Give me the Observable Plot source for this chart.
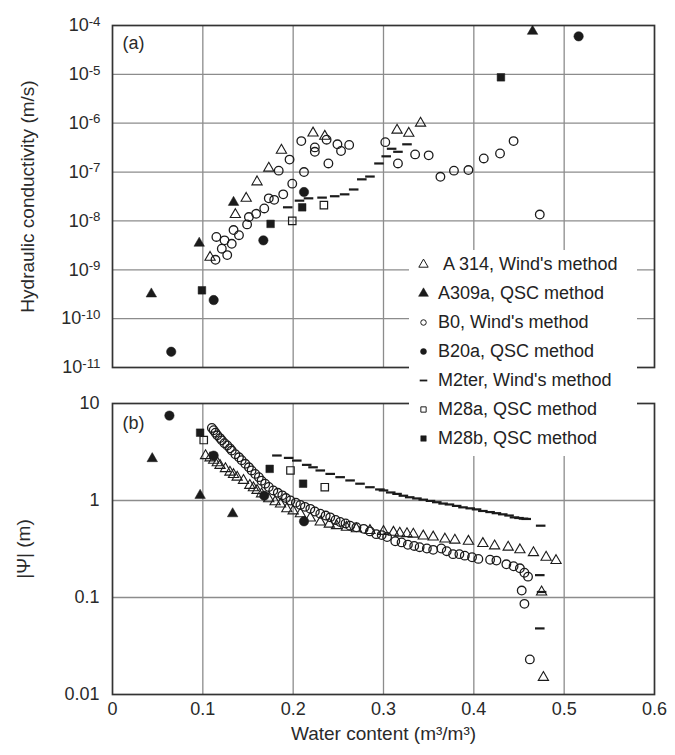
<!DOCTYPE html>
<html>
<head>
<meta charset="utf-8">
<script src="https://cdn.jsdelivr.net/npm/d3@7"></script>
<script src="https://cdn.jsdelivr.net/npm/@observablehq/plot@0.6"></script>
<style>
  html, body { margin: 0; padding: 0; background: #fff; }
  #wrap { position: relative; width: 675px; height: 755px; background: #fff; overflow: hidden; }
  #top, #bottom { position: absolute; left: 0; }
  #top { top: 0; }
  #bottom { top: 385px; }
  #legend { position: absolute; left: 409px; top: 250px; width: 228px; height: 206px; background: #fff;
            font: 18px "Liberation Sans", Arial, sans-serif; color: #222; }
  .row { height: 29px; display: flex; align-items: center; white-space: nowrap; }
  .row svg { flex: none; }
</style>
</head>
<body>
<div id="wrap">
  <div id="top"></div>
  <div id="bottom"></div>
  <div id="legend"></div>
</div>
<script>
// ---------- axes ----------
const xTicks = [0, 0.1, 0.2, 0.3, 0.4, 0.5, 0.6];
const xTickLabels = ["0", "0.1", "0.2", "0.3", "0.4", "0.5", "0.6"];
const kTicks = [1e-11, 1e-10, 1e-9, 1e-8, 1e-7, 1e-6, 1e-5, 1e-4];
const kTickLabels = ["10-11", "10-10", "10-9", "10-8", "10-7", "10-6", "10-5", "10-4"];
const psiTicks = [0.01, 0.1, 1, 10];
const psiTickLabels = ["0.01", "0.1", "1", "10"];

// ---------- legend ----------
const seriesNames = ["A 314, Wind's method", "A309a, QSC method", "B0, Wind's method", "B20a, QSC method",
                     "M2ter, Wind's method", "M28a, QSC method", "M28b, QSC method"];

// ---------- panel (a): hydraulic conductivity (m/s) ----------
const A314_K_theta = [0.108, 0.136, 0.148, 0.160, 0.173, 0.187, 0.222, 0.235, 0.315, 0.328, 0.341];
const A314_K = [1.8e-9, 1.35e-8, 2.9e-8, 6.3e-8, 1.2e-7, 2.8e-7, 6.3e-7, 5.4e-7, 7.2e-7, 6.2e-7, 1.0e-6];

const A309a_K_theta = [0.043, 0.096, 0.134, 0.465];
const A309a_K = [3.2e-10, 3.5e-9, 2.4e-8, 7.6e-5];

const B0_K_theta = [0.114, 0.115, 0.121, 0.127, 0.124, 0.132, 0.134, 0.140, 0.149, 0.151, 0.159, 0.168, 0.173,
  0.179, 0.189, 0.199, 0.184, 0.196, 0.212, 0.209, 0.224, 0.224, 0.237, 0.239, 0.249, 0.253, 0.262, 0.302,
  0.316, 0.335, 0.350, 0.363, 0.378, 0.394, 0.411, 0.429, 0.444, 0.473];
const B0_K = [1.6e-9, 4.7e-9, 2.7e-9, 2.0e-9, 4.0e-9, 3.4e-9, 6.5e-9, 5.1e-9, 8.5e-9, 1.2e-8, 1.4e-8, 1.8e-8, 2.9e-8,
  2.7e-8, 3.5e-8, 5.8e-8, 1.07e-7, 1.8e-7, 1.0e-7, 4.3e-7, 2.6e-7, 3.2e-7, 4.6e-7, 1.5e-7, 3.7e-7, 2.7e-7, 3.6e-7, 4.1e-7,
  1.5e-7, 2.3e-7, 2.2e-7, 8.0e-8, 1.07e-7, 1.1e-7, 1.9e-7, 2.4e-7, 4.3e-7, 1.35e-8];

const B20a_K_theta = [0.065, 0.112, 0.167, 0.212, 0.516];
const B20a_K = [2.1e-11, 2.4e-10, 4.0e-9, 3.9e-8, 6.0e-5];

const M2ter_K_theta = [0.194, 0.207, 0.217, 0.232, 0.246, 0.257, 0.267, 0.276, 0.285, 0.295, 0.303, 0.309, 0.316, 0.326];
const M2ter_K = [1.9e-8, 2.6e-8, 2.9e-8, 3.0e-8, 3.2e-8, 3.5e-8, 4.4e-8, 7.1e-8, 8.1e-8, 1.5e-7, 2.1e-7, 3.0e-7, 2.6e-7, 3.7e-7];

const M28a_K_theta = [0.199, 0.234];
const M28a_K = [1.0e-8, 2.1e-8];

const M28b_K_theta = [0.099, 0.175, 0.210, 0.430];
const M28b_K = [3.8e-10, 8.7e-9, 1.9e-8, 8.7e-6];

// ---------- panel (b): |psi| (m) ----------
const A314_psi_theta = [0.103, 0.108, 0.112, 0.116, 0.119, 0.125, 0.130, 0.134, 0.138, 0.145, 0.152, 0.156, 0.160,
  0.165, 0.173, 0.180, 0.186, 0.193, 0.200, 0.208, 0.219, 0.230, 0.240, 0.248, 0.259, 0.270, 0.285, 0.300, 0.311,
  0.318, 0.326, 0.333, 0.344, 0.355, 0.368, 0.379, 0.394, 0.410, 0.423, 0.438, 0.451, 0.466, 0.480, 0.491, 0.475, 0.477];
const A314_psi = [2.9, 2.75, 2.6, 2.45, 2.3, 2.13, 1.96, 1.85, 1.74, 1.61, 1.43, 1.35, 1.27,
  1.17, 1.04, 0.97, 0.92, 0.82, 0.78, 0.73, 0.66, 0.60, 0.57, 0.55, 0.53, 0.51, 0.49, 0.48, 0.47,
  0.46, 0.455, 0.45, 0.43, 0.42, 0.40, 0.39, 0.38, 0.36, 0.34, 0.33, 0.31, 0.29, 0.26, 0.24, 0.114, 0.015];

const A309a_psi_theta = [0.044, 0.097, 0.133];
const A309a_psi = [2.7, 1.13, 0.73];

const B0_psi_theta = [0.110, 0.112, 0.114, 0.116, 0.119, 0.121, 0.124, 0.127, 0.130, 0.132, 0.136, 0.140, 0.143,
  0.147, 0.151, 0.154, 0.158, 0.162, 0.165, 0.169, 0.173, 0.178, 0.183, 0.188, 0.192, 0.197, 0.203, 0.208, 0.213,
  0.219, 0.224, 0.230, 0.236, 0.241, 0.247, 0.252, 0.258, 0.263, 0.270, 0.278, 0.285, 0.292, 0.298, 0.304, 0.313,
  0.320, 0.327, 0.334, 0.340, 0.348, 0.355, 0.364, 0.370, 0.377, 0.384, 0.390, 0.398, 0.405, 0.418, 0.425, 0.436,
  0.444, 0.451, 0.456, 0.460, 0.453, 0.456, 0.462];
const B0_psi = [5.6, 5.3, 5.0, 4.7, 4.4, 4.17, 3.9, 3.69, 3.45, 3.27, 3.0, 2.79, 2.6,
  2.39, 2.2, 2.04, 1.88, 1.74, 1.6, 1.49, 1.38, 1.27, 1.2, 1.13, 1.06, 1.0, 0.95, 0.90, 0.86,
  0.82, 0.77, 0.73, 0.70, 0.67, 0.63, 0.60, 0.58, 0.55, 0.53, 0.51, 0.48, 0.45, 0.44, 0.42, 0.38,
  0.37, 0.35, 0.34, 0.33, 0.32, 0.31, 0.32, 0.30, 0.28, 0.28, 0.27, 0.26, 0.25, 0.245, 0.24, 0.22,
  0.21, 0.20, 0.18, 0.164, 0.118, 0.086, 0.023];

const B20a_psi_theta = [0.063, 0.112, 0.168, 0.212];
const B20a_psi = [7.5, 2.9, 1.12, 0.61];

const M2ter_psi_theta = [0.182, 0.195, 0.204, 0.215, 0.222, 0.230, 0.241, 0.252, 0.263, 0.274, 0.285, 0.296, 0.300,
  0.308, 0.315, 0.322, 0.329, 0.337, 0.344, 0.352, 0.359, 0.366, 0.373, 0.381, 0.388, 0.396, 0.403, 0.410, 0.418,
  0.425, 0.432, 0.439, 0.445, 0.450, 0.455, 0.458, 0.474, 0.473, 0.475, 0.473];
const M2ter_psi = [2.91, 2.75, 2.58, 2.33, 2.2, 2.04, 1.88, 1.74, 1.61, 1.49, 1.37, 1.30, 1.27,
  1.21, 1.17, 1.12, 1.08, 1.05, 1.02, 0.99, 0.96, 0.93, 0.91, 0.88, 0.85, 0.83, 0.81, 0.78, 0.76,
  0.74, 0.72, 0.70, 0.67, 0.66, 0.65, 0.645, 0.55, 0.17, 0.114, 0.048];

const M28a_psi_theta = [0.101, 0.197, 0.235];
const M28a_psi = [4.2, 2.04, 1.37];

const M28b_psi_theta = [0.097, 0.174, 0.211];
const M28b_psi = [5.0, 2.12, 1.49];

// ---------- styling ----------
const ink = "#1b1b1b";
const gridColor = "#8c8c8c";
const font = '"Liberation Sans", Arial, sans-serif';

const dashSymbol = {
  draw(context, size) {
    const w = Math.sqrt(size) * 0.6;
    context.moveTo(-w, 0);
    context.lineTo(w, 0);
  }
};

const styles = [
  {symbol: "triangle", fill: "none", stroke: ink, strokeWidth: 1.1, r: 3.8},   // A 314
  {symbol: "triangle", fill: ink, stroke: ink, strokeWidth: 0.5, r: 3.9},      // A309a
  {symbol: "circle", fill: "none", stroke: ink, strokeWidth: 1.3, r: 4.3},     // B0
  {symbol: "circle", fill: ink, stroke: ink, strokeWidth: 0.5, r: 4.7},        // B20a
  {symbol: dashSymbol, fill: "none", stroke: ink, strokeWidth: 2.2, r: 4.5},   // M2ter
  {symbol: "square", fill: "none", stroke: ink, strokeWidth: 1.2, r: 4.2},     // M28a
  {symbol: "square", fill: ink, stroke: ink, strokeWidth: 0.5, r: 4.3}         // M28b
];

function table(xs, ys) { return xs.map((x, i) => ({x, y: ys[i]})); }
function dots(xs, ys, k) { return Plot.dot(table(xs, ys), {x: "x", y: "y", ...styles[k]}); }

const W = 675, ML = 112, MR = 21;

// ---------- panel (a) ----------
const topPlot = Plot.plot({
  width: W, height: 385,
  marginLeft: ML, marginRight: MR, marginTop: 25, marginBottom: 18,
  style: {fontFamily: font, fontSize: "18px", color: "#2a2a2a", background: "transparent"},
  x: {domain: [0, 0.6], axis: null},
  y: {type: "log", domain: [1e-11, 1e-4]},
  marks: [
    Plot.gridX(xTicks.slice(1, -1), {stroke: gridColor, strokeOpacity: 1, strokeWidth: 1.3}),
    Plot.gridY(kTicks.slice(1, -1), {stroke: gridColor, strokeOpacity: 1, strokeWidth: 1.3}),
    Plot.frame({stroke: "#333", strokeWidth: 1.7}),
    Plot.axisY({ticks: kTicks, tickSize: 0, tickPadding: 12, label: null,
                tickFormat: (d) => kTickLabels[kTicks.indexOf(d)]}),
    Plot.text(["Hydraulic conductivity (m/s)"], {frameAnchor: "left", dx: -85, rotate: -90,
                textAnchor: "middle", lineAnchor: "middle", fontSize: 19}),
    Plot.text(["(a)"], {frameAnchor: "top-left", dx: 10, dy: 11, fontSize: 18}),
    dots(M2ter_K_theta, M2ter_K, 4),
    dots(B0_K_theta, B0_K, 2),
    dots(A314_K_theta, A314_K, 0),
    dots(M28a_K_theta, M28a_K, 5),
    dots(M28b_K_theta, M28b_K, 6),
    dots(B20a_K_theta, B20a_K, 3),
    dots(A309a_K_theta, A309a_K, 1)
  ]
});

// superscript exponents on the log tick labels
for (const t of topPlot.querySelectorAll('[aria-label="y-axis tick label"] text')) {
  const s = t.textContent;
  if (!s.startsWith("10")) continue;
  t.textContent = "10";
  const sup = document.createElementNS("http://www.w3.org/2000/svg", "tspan");
  sup.setAttribute("dy", "-0.42em");
  sup.setAttribute("font-size", "0.74em");
  sup.textContent = s.slice(2);
  t.appendChild(sup);
}
document.getElementById("top").appendChild(topPlot);

// ---------- panel (b) ----------
const bottomPlot = Plot.plot({
  width: W, height: 370,
  marginLeft: ML, marginRight: MR, marginTop: 18, marginBottom: 61,
  style: {fontFamily: font, fontSize: "18px", color: "#2a2a2a", background: "transparent"},
  x: {domain: [0, 0.6]},
  y: {type: "log", domain: [0.01, 10]},
  marks: [
    Plot.gridX(xTicks.slice(1, -1), {stroke: gridColor, strokeOpacity: 1, strokeWidth: 1.3}),
    Plot.gridY(psiTicks.slice(1, -1), {stroke: gridColor, strokeOpacity: 1, strokeWidth: 1.3}),
    Plot.frame({stroke: "#333", strokeWidth: 1.7}),
    Plot.axisY({ticks: psiTicks, tickSize: 0, tickPadding: 13, label: null,
                tickFormat: (d) => psiTickLabels[psiTicks.indexOf(d)]}),
    Plot.axisX({ticks: xTicks, tickSize: 0, tickPadding: 8, label: null,
                tickFormat: (d) => xTickLabels[xTicks.indexOf(d)]}),
    Plot.text(["|Ψ| (m)"], {frameAnchor: "left", dx: -89, rotate: -90,
                textAnchor: "middle", lineAnchor: "middle", fontSize: 19}),
    Plot.text(["Water content (m³/m³)"], {frameAnchor: "bottom", dy: 39, lineAnchor: "middle", fontSize: 19}),
    Plot.text(["(b)"], {frameAnchor: "top-left", dx: 10, dy: 13, fontSize: 18}),
    dots(M2ter_psi_theta, M2ter_psi, 4),
    dots(B0_psi_theta, B0_psi, 2),
    dots(A314_psi_theta, A314_psi, 0),
    dots(M28a_psi_theta, M28a_psi, 5),
    dots(M28b_psi_theta, M28b_psi, 6),
    dots(B20a_psi_theta, B20a_psi, 3),
    dots(A309a_psi_theta, A309a_psi, 1)
  ]
});
document.getElementById("bottom").appendChild(bottomPlot);

// ---------- legend ----------
const legend = d3.select("#legend");
const legendSizes = [38, 42, 24, 28, 40, 28, 30];
seriesNames.forEach((name, i) => {
  const row = legend.append("div").attr("class", "row");
  const svg = row.append("svg").attr("width", 29).attr("height", 29);
  const st = styles[i];
  const type = st.symbol === "triangle" ? d3.symbolTriangle
             : st.symbol === "circle" ? d3.symbolCircle
             : st.symbol === "square" ? d3.symbolSquare : st.symbol;
  svg.append("path")
    .attr("transform", "translate(14.5,14.5)")
    .attr("d", d3.symbol(type, legendSizes[i])())
    .attr("fill", st.fill)
    .attr("stroke", st.stroke)
    .attr("stroke-width", i === 4 ? 1.8 : (st.fill === "none" ? 1 : 0.5));
  row.append("span").style("padding-left", i === 0 ? "5px" : "0px").text(name);
});
</script>
</body>
</html>
